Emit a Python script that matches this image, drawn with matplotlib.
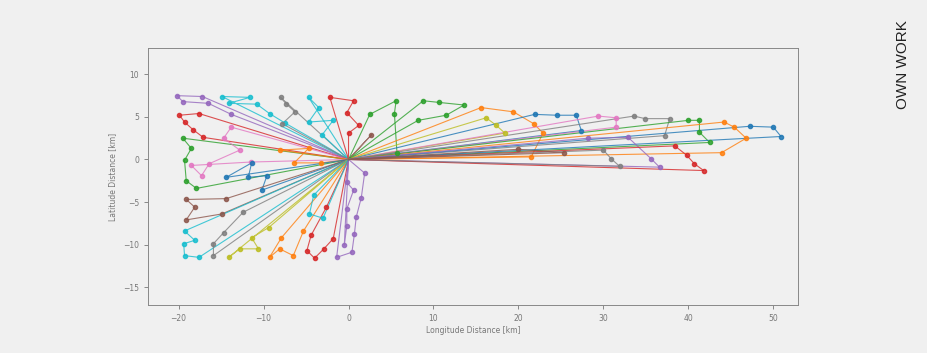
import matplotlib
matplotlib.use('Agg')
import matplotlib.pyplot as plt

# ---------------- DATA (km from the depot) ----------------
depot = (0.0, 0.0)

routes = [
    [(-17.2, 7.4), (-20.2, 7.5), (-19.5, 6.8), (-16.5, 6.6), (-13.8, 5.3)],
    [(-14.9, 7.4), (-11.6, 7.3), (-14.1, 6.6), (-10.8, 6.5), (-9.3, 5.4), (-7.5, 4.3)],
    [(-8.0, 7.3), (-7.3, 6.5), (-6.3, 5.6), (-7.8, 4.2)],
    [(-4.7, 7.3), (-3.5, 6.1), (-4.7, 4.4), (-1.8, 4.6), (-3.1, 2.9)],
    [(-2.2, 7.3), (0.6, 6.9), (-0.2, 5.5), (1.2, 4.0), (0.0, 3.1)],
    [(-17.6, 5.4), (-19.9, 5.2), (-19.3, 4.4), (-18.3, 3.5), (-17.1, 2.6)],
    [(-19.5, 2.5), (-18.5, 1.3), (-19.3, -0.1), (-19.1, -2.5), (-17.9, -3.4)],
    [(-13.8, 3.8), (-14.7, 2.5), (-12.8, 1.1), (-16.4, -0.5), (-17.3, -1.9), (-18.5, -0.7), (-11.5, -0.3)],
    [(-8.1, 1.1), (-4.7, 1.3), (-6.4, -0.4), (-3.2, -0.4)],
    [(-14.4, -2.1), (-11.4, -0.4), (-11.8, -2.1), (-9.6, -1.9), (-10.2, -3.6)],
    [(-14.4, -4.6), (-19.1, -4.7), (-18.1, -5.6), (-19.1, -7.1), (-14.9, -6.4)],
    [(-19.3, -8.4), (-18.1, -9.5), (-19.4, -9.9), (-19.3, -11.3), (-17.6, -11.5)],
    [(-15.9, -11.3), (-15.9, -9.9), (-14.7, -8.6), (-12.4, -6.2)],
    [(-14.1, -11.5), (-12.8, -10.5), (-10.6, -10.5), (-11.4, -9.2), (-9.4, -8.0)],
    [(-7.9, -9.2), (-9.3, -11.5), (-8.1, -10.5), (-6.5, -11.3), (-5.3, -8.4)],
    [(-2.6, -5.6), (-4.4, -8.9), (-4.9, -10.7), (-4.0, -11.6), (-2.9, -10.5), (-1.8, -9.3)],
    [(-4.1, -4.2), (-4.6, -6.4), (-3.0, -6.9)],
    [(1.9, -1.6), (1.5, -4.5), (0.9, -6.8), (0.7, -8.7), (0.4, -10.9), (-1.4, -11.5)],
    [(-0.2, -2.7), (0.6, -3.6), (-0.2, -5.8), (-0.2, -7.8), (-0.5, -10.1)],
    [(2.7, 2.9)],
    [(2.5, 5.3), (5.6, 6.9), (5.4, 5.4), (5.7, 0.8)],
    [(8.8, 6.9), (10.7, 6.7), (13.6, 6.4), (11.5, 5.2), (8.2, 4.6)],
    [(15.6, 6.1), (19.4, 5.6), (21.8, 4.2), (22.9, 3.1), (21.5, 0.3)],
    [(16.2, 4.9), (17.4, 4.0), (18.4, 3.1)],
    [(21.9, 5.3), (24.5, 5.2), (26.8, 5.2), (27.4, 3.4)],
    [(29.4, 5.1), (31.5, 4.9), (31.5, 3.8)],
    [(33.6, 5.1), (34.9, 4.8), (37.8, 4.8), (37.2, 2.8)],
    [(40.0, 4.6), (41.3, 4.6), (41.3, 3.2), (42.5, 2.0)],
    [(44.2, 4.4), (45.4, 3.8), (46.8, 2.5), (43.9, 0.8)],
    [(47.2, 3.9), (50.0, 3.8), (50.9, 2.7)],
    [(28.2, 2.5), (32.9, 2.6), (35.6, 0.1), (36.6, -0.9)],
    [(38.4, 1.6), (39.8, 0.5), (40.7, -0.5), (41.8, -1.3)],
    [(30.0, 1.1), (30.9, 0.1), (31.9, -0.8)],
    [(20.0, 1.2), (25.4, 0.8)],
]

route_colors = ['C4', 'C9', 'C7', 'C9', 'C3', 'C3', 'C2', 'C6', 'C1', 'C0',
                'C5', 'C9', 'C7', 'C8', 'C1', 'C3', 'C9', 'C4', 'C4', 'C5',
                'C2', 'C2', 'C1', 'C8', 'C0', 'C6', 'C7', 'C2', 'C1', 'C0',
                'C4', 'C3', 'C7', 'C5']

xticks = [-20, -10, 0, 10, 20, 30, 40, 50]
yticks = [-15, -10, -5, 0, 5, 10]

# ---------------- PLOT ----------------
bg = '#f0f0f0'
fig = plt.figure(figsize=(9.28, 3.53), dpi=100, facecolor=bg)
ax = fig.add_axes([148/928, 1-305/353, 650/928, 257/353], facecolor=bg)

for r, c in zip(routes, route_colors):
    xs = [depot[0]] + [p[0] for p in r] + [depot[0]]
    ys = [depot[1]] + [p[1] for p in r] + [depot[1]]
    ax.plot(xs, ys, '-', color=c, lw=0.8, alpha=0.8, zorder=2)
    ax.plot([p[0] for p in r], [p[1] for p in r], 'o', color=c, ms=3.0, alpha=0.85, zorder=3)

ax.set_xlim(-23.6, 52.9)
ax.set_ylim(-17.1, 13.1)
ax.set_xticks(xticks)
ax.set_yticks(yticks)
ax.tick_params(labelsize=5.5, colors='#777777', length=3, width=0.6)
for s in ax.spines.values():
    s.set_color('#888888')
    s.set_linewidth(0.7)
ax.set_xlabel('Longitude Distance [km]', fontsize=5.5, color='#777777', labelpad=2)
ax.set_ylabel('Latitude Distance [km]', fontsize=5.5, color='#777777', labelpad=4)

fig.text(903/928, 1-20/353, 'OWN WORK', rotation=90, ha='center', va='top',
         fontsize=11, color='#222222', family='Liberation Sans')

fig.savefig('out.png', dpi=100, facecolor=bg)
